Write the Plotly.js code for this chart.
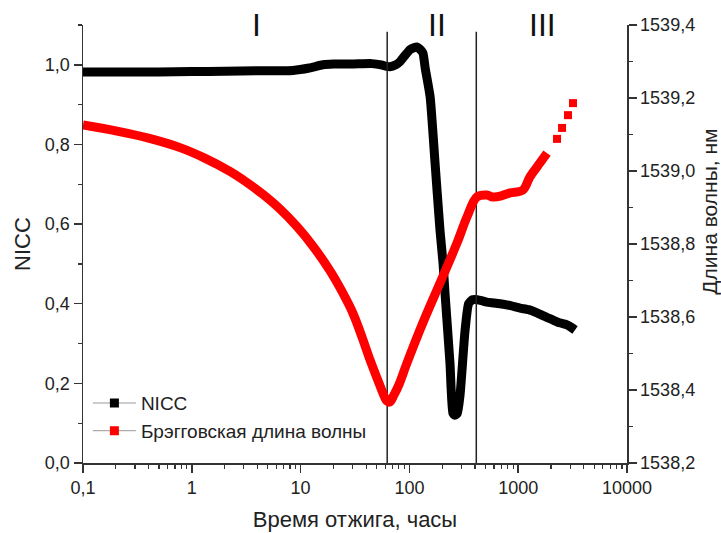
<!DOCTYPE html>
<html>
<head>
<meta charset="utf-8">
<script src="https://cdn.plot.ly/plotly-3.0.1.min.js"></script>
<style>html,body{margin:0;padding:0;background:#fff}#chart{width:721px;height:533px}</style>
</head>
<body>
<div id="chart"></div>
<script>
// NICC (left axis)
const nicTime = [0.1,0.2,0.5,1,2,4,8.5,12,16,20,30,45,55,62,66,75,82,92,101,110,117,124,133,140,155,172,191,204,212,236,251,262,276,292,324,350,380,420,470,513,600,681,850,1040,1250,1490,1750,2090,2400,2810,3100,3330];
const nicValue = [0.982,0.982,0.982,0.983,0.984,0.985,0.986,0.992,1.0,1.002,1.002,1.003,1.0,0.996,0.995,1.0,1.008,1.025,1.038,1.043,1.045,1.04,1.03,0.99,0.92,0.754,0.585,0.5,0.43,0.251,0.125,0.12,0.125,0.17,0.33,0.40,0.41,0.41,0.407,0.404,0.402,0.400,0.395,0.389,0.385,0.377,0.368,0.359,0.352,0.347,0.340,0.334];

// Bragg wavelength, nm (right axis) — dense part
const braggTime = [0.1,0.2,0.4,0.78,1.3,2.24,3.2,4.5,6.5,9.3,13,18.6,24,30.3,37,43.5,52,57,62,66,72,80,95,133,191,274,338,418,516,586,700,840,1106,1282,1585,1840];
const braggValue = [1539.126,1539.110,1539.090,1539.064,1539.036,1538.999,1538.969,1538.936,1538.895,1538.847,1538.794,1538.727,1538.670,1538.610,1538.542,1538.482,1538.422,1538.392,1538.370,1538.367,1538.386,1538.414,1538.474,1538.584,1538.693,1538.803,1538.874,1538.929,1538.934,1538.929,1538.932,1538.94,1538.948,1538.984,1539.022,1539.049];
// sparse tail points
const braggTailTime = [2275,2530,2870,3190];
const braggTailValue = [1539.088,1539.118,1539.153,1539.186];

// stage boundaries and labels
const stageBounds = [62.5, 412];
const stageLabelTime = [3.97, 179.5, 1690];
const stageLabels = ['I','II','III'];

const xTickVals = [0.1,1,10,100,1000,10000];
const xTickText = ['0,1','1','10','100','1000','10000'];
const yTickVals = [0,0.2,0.4,0.6,0.8,1.0];
const yTickText = ['0,0','0,2','0,4','0,6','0,8','1,0'];
const y2TickVals = [1538.2,1538.4,1538.6,1538.8,1539.0,1539.2,1539.4];
const y2TickText = ['1538,2','1538,4','1538,6','1538,8','1539,0','1539,2','1539,4'];
const legendNames = ['NICC','Брэгговская длина волны'];

const xMinor = [];
for (let d = -1; d < 4; d++) for (let k = 2; k <= 9; k++) xMinor.push(k * Math.pow(10, d));

const FONT = 'Liberation Sans, Arial, sans-serif';
const AX = '#333';

const traces = [
  {x: nicTime, y: nicValue, mode: 'lines', line: {color: '#000', width: 9, shape: 'spline', smoothing: 0.5}, yaxis: 'y', showlegend: false, hoverinfo: 'skip'},
  {x: braggTime, y: braggValue, mode: 'lines', line: {color: '#ff0000', width: 9, shape: 'spline', smoothing: 1}, yaxis: 'y2', showlegend: false, hoverinfo: 'skip'},
  {x: braggTailTime, y: braggTailValue, mode: 'markers', marker: {symbol: 'square', size: 8, color: '#ff0000'}, yaxis: 'y2', showlegend: false, hoverinfo: 'skip'},
];
stageBounds.forEach(b => traces.push({x: [b, b], y: [0, 1.083], mode: 'lines', line: {color: '#222', width: 1.5}, yaxis: 'y', showlegend: false, hoverinfo: 'skip'}));
// legend-only entries
traces.push({x: [null], y: [null], name: legendNames[0], mode: 'lines+markers', line: {color: '#999', width: 1}, marker: {symbol: 'square', size: 9, color: '#000'}});
traces.push({x: [null], y: [null], name: legendNames[1], mode: 'lines+markers', line: {color: '#999', width: 1}, marker: {symbol: 'square', size: 9, color: '#ff0000'}, yaxis: 'y2'});

const annotations = stageLabels.map((t, i) => ({
  text: t, xref: 'x', yref: 'y', x: Math.log10(stageLabelTime[i]), y: 1.1, yanchor: 'middle', xanchor: 'center',
  showarrow: false, font: {family: FONT, size: 32, color: '#111'}
}));
annotations.push({text: 'Длина волны, нм', xref: 'paper', yref: 'paper', x: 1.15, y: 0.573, textangle: -90,
  showarrow: false, xanchor: 'center', yanchor: 'middle', font: {family: FONT, size: 21, color: '#222'}});

const layout = {
  width: 721, height: 533,
  margin: {l: 83, r: 94, t: 25, b: 70},
  paper_bgcolor: '#fff', plot_bgcolor: '#fff',
  font: {family: FONT, size: 18, color: '#222'},
  xaxis: {
    type: 'log', range: [-1, 4], tickmode: 'array', tickvals: xTickVals, ticktext: xTickText,
    ticks: 'outside', ticklen: 8, tickwidth: 1.5, tickcolor: AX, showline: true, linecolor: AX, linewidth: 1.5,
    showgrid: false, zeroline: false,
    minor: {tickmode: 'array', tickvals: xMinor, ticks: 'outside', ticklen: 4, tickwidth: 1.2, tickcolor: AX, showgrid: false},
    title: {text: 'Время отжига, часы', font: {family: FONT, size: 22, color: '#222'}, standoff: 14},
    tickfont: {size: 18}
  },
  yaxis: {
    range: [0, 1.1], tickmode: 'array', tickvals: yTickVals, ticktext: yTickText,
    ticks: 'outside', ticklen: 8, tickwidth: 1.5, tickcolor: AX, showline: true, linecolor: AX, linewidth: 1.5,
    showgrid: false, zeroline: false,
    minor: {tickmode: 'array', tickvals: [0.1,0.3,0.5,0.7,0.9,1.1], ticks: 'outside', ticklen: 4, tickwidth: 1.2, tickcolor: AX, showgrid: false},
    title: {text: 'NICC', font: {family: FONT, size: 22, color: '#222'}, standoff: 8},
    tickfont: {size: 18}
  },
  yaxis2: {
    overlaying: 'y', side: 'right', range: [1538.2, 1539.4], tickmode: 'array', tickvals: y2TickVals, ticktext: y2TickText,
    ticks: 'outside', ticklen: 8, tickwidth: 1.5, tickcolor: AX, showline: true, linecolor: AX, linewidth: 1.5,
    showgrid: false, zeroline: false,
    minor: {tickmode: 'array', tickvals: [1538.3,1538.5,1538.7,1538.9,1539.1,1539.3], ticks: 'outside', ticklen: 4, tickwidth: 1.2, tickcolor: AX, showgrid: false},
    tickfont: {size: 18}
  },
  legend: {x: 0.009, y: 0.18, xanchor: 'left', yanchor: 'top', bgcolor: 'rgba(0,0,0,0)', font: {family: FONT, size: 19, color: '#222'}, itemwidth: 43, tracegroupgap: 0},
  annotations: annotations,
  showlegend: true
};

Plotly.newPlot('chart', traces, layout, {staticPlot: true, displayModeBar: false});
</script>
</body>
</html>
